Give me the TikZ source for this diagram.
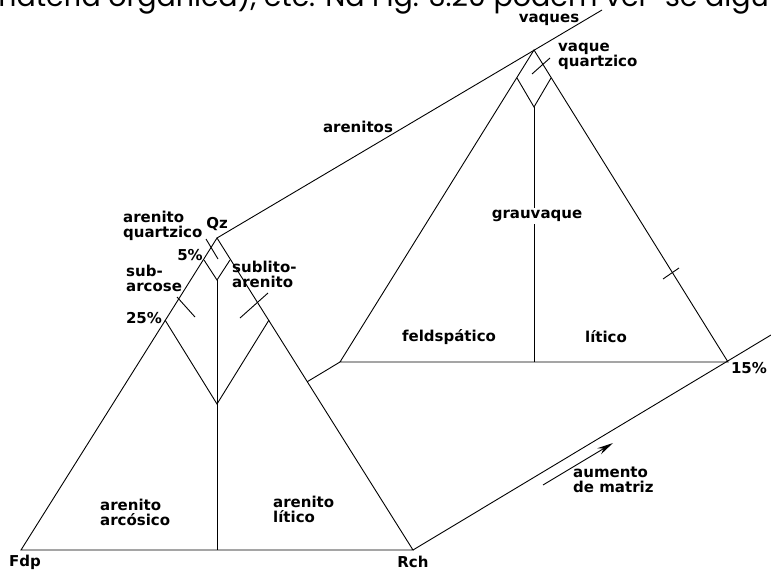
\documentclass[tikz,border=0pt]{standalone}
\usepackage{fontspec}
\setmainfont{DejaVu Sans}
\newfontfamily\topfont{Poppins}
\usetikzlibrary{arrows.meta}
\begin{document}
\begin{tikzpicture}[x=1pt,y=-1pt,
  edge/.style={line width=0.9pt, black},
  lbl/.style={font=\bfseries\fontsize{15}{15}\selectfont, align=left, inner sep=0pt},
]
\useasboundingbox (0,0) rectangle (771,571);
\begin{scope}
\clip (0,0) rectangle (771,571);
\node[anchor=base west, inner sep=0pt, font=\topfont\fontsize{28.5}{29}\selectfont] (toptext) at (-13,6) {matéria orgânica), etc. Na Fig. 3.20 podem ver-se algu};
\end{scope}
% front triangle (arenitos)
\coordinate (Fdp) at (21,550);
\coordinate (Rch) at (413,550);
\coordinate (Qz) at (217,238);
\coordinate (L5) at (204,260);
\coordinate (R5) at (230,260);
\coordinate (D5) at (217,280);
\coordinate (L25) at (165,320);
\coordinate (R25) at (269,320);
\coordinate (V25) at (217,404);
\coordinate (Mid) at (217,550);
\draw[edge] (Fdp) -- (Qz) -- (Rch) -- cycle;
\draw[edge] (L5) -- (D5) -- (R5);
\draw[edge] (L25) -- (V25) -- (R25);
\draw[edge] (D5) -- (Mid);
% back triangle (vaques)
\coordinate (Vq) at (534,50);
\coordinate (BL) at (340,362);
\coordinate (BR) at (728,362);
\coordinate (BL5) at (517,78);
\coordinate (BR5) at (551,78);
\coordinate (BD5) at (534,107);
\coordinate (BMid) at (534,362);
\draw[edge] (BL) -- (Vq) -- (BR) -- cycle;
\draw[edge] (BL5) -- (BD5) -- (BR5);
\draw[edge] (BD5) -- (BMid);
% connecting lines
\coordinate (topEnd) at (602,10);
\coordinate (botEnd) at (771,335);
\coordinate (aux) at (240,422);
\coordinate (FR) at (intersection of BL--aux and Qz--Rch);
\draw[edge] (Qz) -- (topEnd);
\draw[edge] (Rch) -- (botEnd);
\draw[edge] (FR) -- (BL);
% ticks
\coordinate (tq1) at (206,239); \coordinate (tq2) at (218,259);
\coordinate (ts1) at (177,297); \coordinate (ts2) at (195,317);
\coordinate (tl1) at (268,293); \coordinate (tl2) at (240,318);
\coordinate (tv1) at (532,74);  \coordinate (tv2) at (550,58);
\coordinate (tb1) at (663,279); \coordinate (tb2) at (679,268);
\draw[edge] (tq1) -- (tq2);
\draw[edge] (ts1) -- (ts2);
\draw[edge] (tl1) -- (tl2);
\draw[edge] (tv1) -- (tv2);
\draw[edge] (tb1) -- (tb2);
% arrow
\coordinate (a1) at (543,485); \coordinate (a2) at (613,443);
\draw[edge, -{Stealth[length=16pt,width=7pt]}] (a1) -- (a2);
% labels
\node[lbl] (qz) at (217,224) {Qz};
\node[lbl, anchor=north west] (aq) at (123,211) {arenito\\quartzico};
\node[lbl] (p5) at (190,255) {5\%};
\node[lbl, anchor=north west] (sa) at (126,265) {sub-\\arcose};
\node[lbl] (p25) at (144,318) {25\%};
\node[lbl, anchor=north west] (sl) at (232,261) {sublito-\\arenito};
\node[lbl, anchor=north west] (aa) at (100,499) {arenito\\arcósico};
\node[lbl, anchor=north west] (al) at (273,496) {arenito\\lítico};
\node[lbl] (fdp) at (25,562) {Fdp};
\node[lbl] (rch) at (413,562) {Rch};
\node[lbl] (ar) at (358,127) {arenitos};
\node[lbl] (vqs) at (549,20) {vaques};
\node[lbl, anchor=north west] (vqq) at (558,43) {vaque\\quartzico};
\node[lbl, fill=white, inner sep=2pt] (gr) at (537,216) {grauvaque};
\node[lbl] (fe) at (449,337) {feldspático};
\node[lbl] (li) at (606,337) {lítico};
\node[lbl] (p15) at (749,368) {15\%};
\node[lbl, anchor=north west] (am) at (573,467) {aumento\\de matriz};
\end{tikzpicture}
\end{document}
